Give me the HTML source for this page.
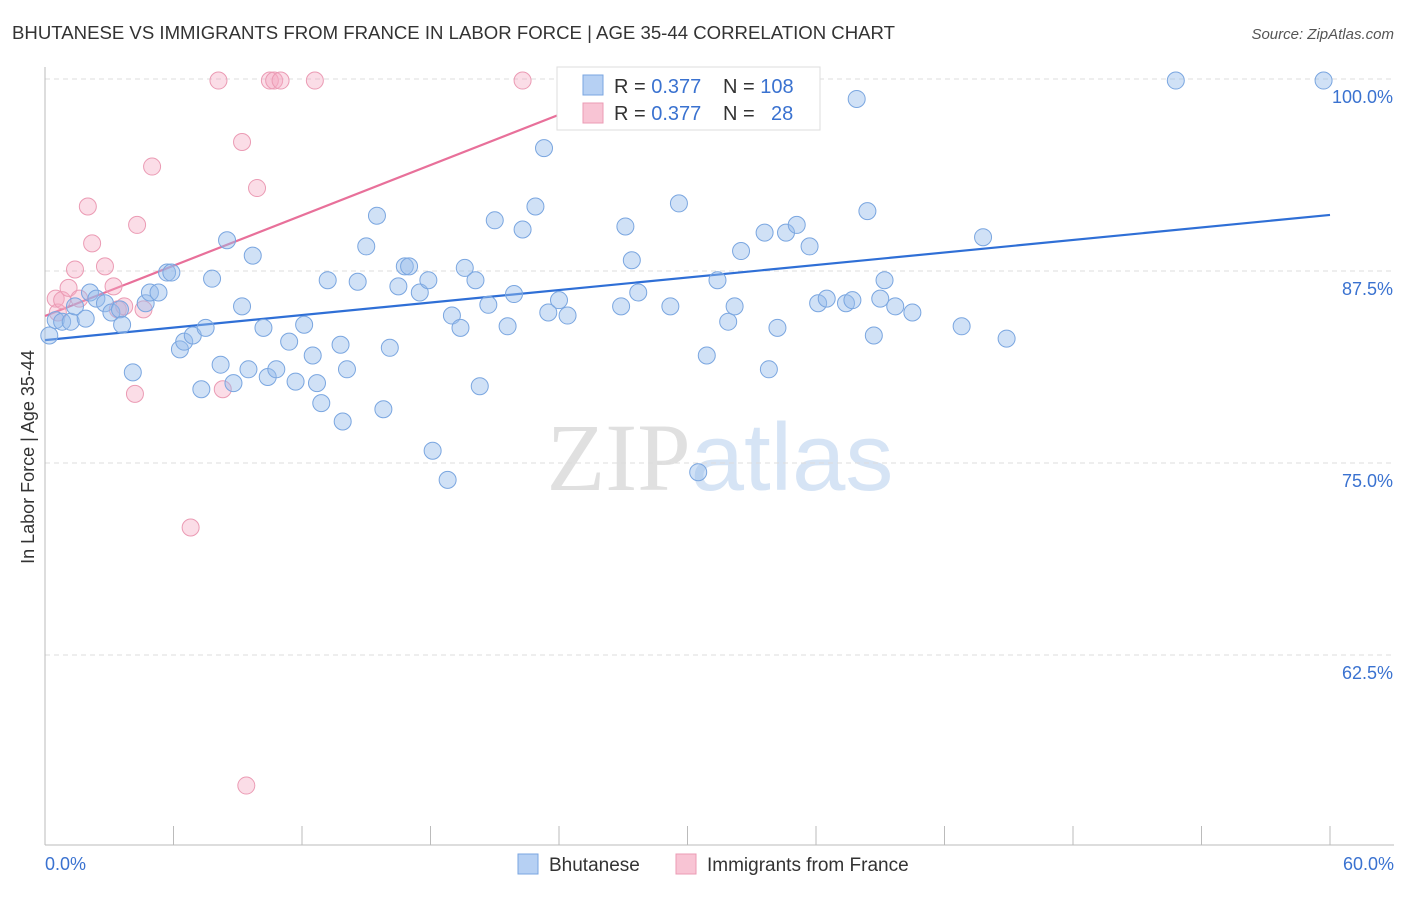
<!DOCTYPE html>
<html><head><meta charset="utf-8"><style>
body{margin:0;background:#fff;font-family:"Liberation Sans",sans-serif}
svg text{font-family:"Liberation Sans",sans-serif}
</style></head><body>
<svg id="chart" width="1406" height="892" xmlns="http://www.w3.org/2000/svg">
<text x="12" y="39" font-size="18.6" fill="#333">BHUTANESE VS IMMIGRANTS FROM FRANCE IN LABOR FORCE | AGE 35-44 CORRELATION CHART</text>
<text x="1394" y="39" font-size="15" fill="#555" text-anchor="end" font-style="italic">Source: ZipAtlas.com</text>
<text x="720" y="490" font-size="96" fill="#e0e0e0" text-anchor="middle" font-family="Liberation Serif"><tspan font-family="Liberation Serif">ZIP</tspan><tspan fill="#d6e4f5" font-family="Liberation Sans">atlas</tspan></text>
<text transform="translate(34,457) rotate(-90)" font-size="18" fill="#333" text-anchor="middle">In Labor Force | Age 35-44</text>
<g id="grid"></g><g id="axes"></g><g id="trend"></g><g id="pts"></g>
<g>
<rect x="557" y="67" width="263" height="63" fill="#fff" stroke="#ddd"/>
<rect x="583" y="75" width="20" height="20" fill="#b6d0f3" stroke="#7aa6e0"/>
<rect x="583" y="103" width="20" height="20" fill="#f8c4d4" stroke="#eb9bb4"/>
<text x="614" y="93" font-size="20" fill="#333">R = <tspan fill="#3a72d0">0.377</tspan></text>
<text x="723" y="93" font-size="20" fill="#333">N = <tspan fill="#3a72d0">108</tspan></text>
<text x="614" y="120" font-size="20" fill="#333">R = <tspan fill="#3a72d0">0.377</tspan></text>
<text x="723" y="120" font-size="20" fill="#333">N = </text>
<text x="771" y="120" font-size="20" fill="#3a72d0">28</text>
</g>
<g>
<rect x="518" y="854" width="20" height="20" fill="#b6d0f3" stroke="#7aa6e0"/>
<text x="549" y="871" font-size="19" fill="#333">Bhutanese</text>
<rect x="676" y="854" width="20" height="20" fill="#f8c4d4" stroke="#eb9bb4"/>
<text x="707" y="871" font-size="19" fill="#333">Immigrants from France</text>
</g>
</svg>
<script>
const yTicks=[100,87.5,75,62.5];
const yTickLabels=["100.0%","87.5%","75.0%","62.5%"];
const xTickLabels=["0.0%","60.0%"];
const blueX=[0.2,0.5,0.8,1.2,1.4,1.9,2.1,2.4,2.8,3.1,3.5,3.6,4.1,4.7,4.9,5.3,5.7,5.9,6.3,6.5,6.9,7.3,7.5,7.8,8.2,8.5,8.8,9.2,9.5,9.7,10.2,10.4,10.8,11.4,11.7,12.1,12.5,12.7,12.9,13.2,13.8,13.9,14.1,14.6,15.0,15.5,15.8,16.1,16.5,16.8,17.0,17.5,17.9,18.1,18.8,19.0,19.4,19.6,20.1,20.3,20.7,21.0,21.6,21.9,22.3,22.9,23.3,23.5,24.0,24.4,25.4,26.9,27.1,27.4,27.7,29.2,29.6,30.5,30.9,31.4,31.9,32.2,32.5,33.6,33.8,34.2,34.6,35.1,35.7,36.1,36.5,37.4,37.7,37.9,38.4,38.7,39.0,39.2,39.7,40.5,42.8,43.8,44.9,52.8,59.7];
const blueY=[83.3,84.3,84.2,84.2,85.2,84.4,86.1,85.7,85.4,84.8,85.0,84.0,80.9,85.4,86.1,86.1,87.4,87.4,82.4,82.9,83.3,79.8,83.8,87.0,81.4,89.5,80.2,85.2,81.1,88.5,83.8,80.6,81.1,82.9,80.3,84.0,82.0,80.2,78.9,86.9,82.7,77.7,81.1,86.8,89.1,91.1,78.5,82.5,86.5,87.8,87.8,86.1,86.9,75.8,73.9,84.6,83.8,87.7,86.9,80.0,85.3,90.8,83.9,86.0,90.2,91.7,95.5,84.8,85.6,84.6,99.9,85.2,90.4,88.2,86.1,85.2,91.9,74.4,82.0,86.9,84.2,85.2,88.8,90.0,81.1,83.8,90.0,90.5,89.1,85.4,85.7,85.4,85.6,98.7,91.4,83.3,85.7,86.9,85.2,84.8,83.9,89.7,83.1,99.9,99.9];
const pinkX=[0.5,0.6,0.8,1.1,1.4,1.6,2.0,2.2,2.8,3.2,3.4,3.7,4.3,4.2,4.6,5.0,6.8,8.1,8.3,9.2,9.4,9.9,10.5,10.7,11.0,12.6,22.3,31.3];
const pinkY=[85.7,84.8,85.6,86.4,87.6,85.7,91.7,89.3,87.8,86.5,85.0,85.2,90.5,79.5,85.0,94.3,70.8,99.9,79.8,95.9,54.0,92.9,99.9,99.9,99.9,99.9,99.9,99.9];
const blueTrend=[83.0,91.15];
const pinkTrend=[84.57,0.546];
const X0=45,X1=1330,Y100=79,PX=192/12.5;
const sx=v=>X0+(v/60)*(X1-X0);
const sy=v=>Y100+(100-v)*PX;
const NS="http://www.w3.org/2000/svg";
function mk(t,a,p){const e=document.createElementNS(NS,t);for(const k in a)e.setAttribute(k,a[k]);p.appendChild(e);return e;}
const grid=document.getElementById('grid'),axes=document.getElementById('axes');
yTicks.forEach((t,i)=>{
 const l=mk('line',{x1:X0,x2:1394,y1:sy(t),y2:sy(t),stroke:'#ddd','stroke-dasharray':'5,4'},grid);
 
 
 const tx=mk('text',{x:1393,y:sy(t)+24,'font-size':18,fill:'#3a72d0','text-anchor':'end'},axes);
 tx.textContent=yTickLabels[i];
 
 
});
const ax=mk('line',{x1:X0,x2:X0,y1:67,y2:845,stroke:'#bbb'},axes);


const bx=mk('line',{x1:X0,x2:1394,y1:845,y2:845,stroke:'#bbb'},axes);


for(let i=0;i<=10;i++){const t=mk('line',{x1:sx(i*6),x2:sx(i*6),y1:826,y2:845,stroke:'#bbb'},axes);
 
 }
[[0,'start',X0],[60,'end',1394]].forEach((d,i)=>{const t=mk('text',{x:d[2],y:870,'font-size':18,fill:'#3a72d0','text-anchor':d[1]},axes);t.textContent=xTickLabels[i];
 
 });
const pts=document.getElementById('pts');
function dots(xs,ys,fill,stroke,name){xs.forEach((x,i)=>{const c=mk('circle',{cx:sx(x),cy:sy(ys[i]),r:8.5,fill:fill,stroke:stroke,'stroke-width':1},pts);
 
 });}
dots(pinkX,pinkY,'rgba(244,170,195,0.4)','#eb9bb4','france-point');
dots(blueX,blueY,'rgba(150,188,236,0.45)','#7aa6e0','bhutanese-point');
const tr=document.getElementById('trend');
const bl=mk('line',{x1:sx(0),y1:sy(blueTrend[0]),x2:sx(60),y2:sy(blueTrend[1]),stroke:'#2f6fd6','stroke-width':2.2},tr);


const pEnd=(100-pinkTrend[0])/pinkTrend[1];
const pl=mk('line',{x1:sx(0),y1:sy(pinkTrend[0]),x2:sx(pEnd),y2:sy(100),stroke:'#e8709a','stroke-width':2.2},tr);


</script>
</body></html>
